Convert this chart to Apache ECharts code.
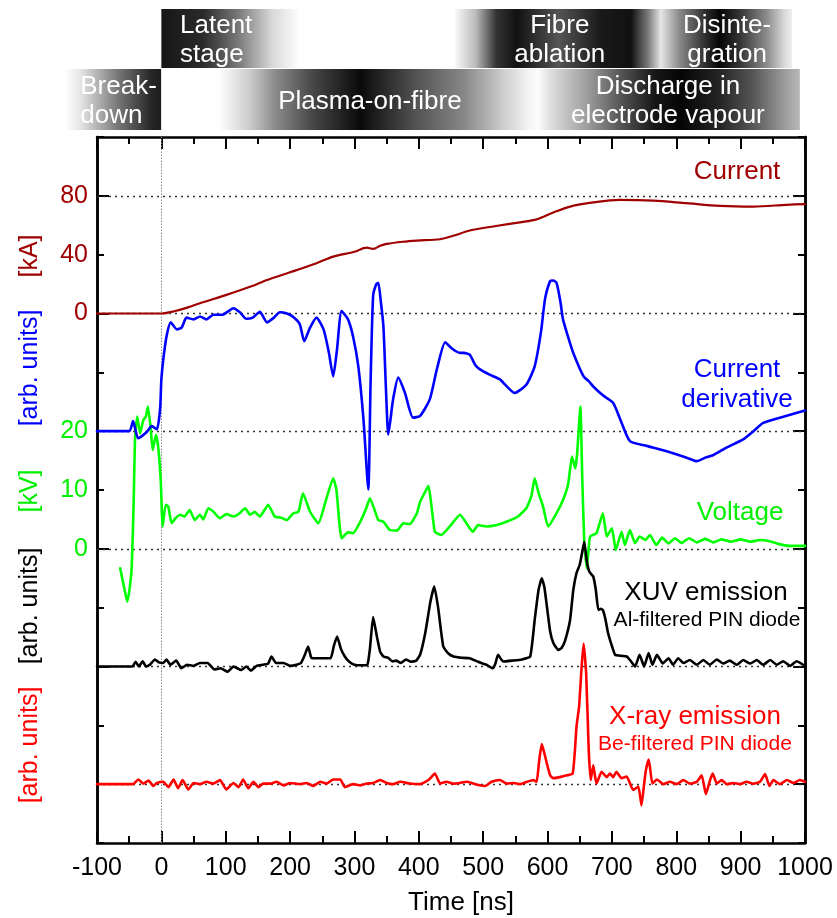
<!DOCTYPE html>
<html>
<head>
<meta charset="utf-8">
<script src="https://cdn.jsdelivr.net/npm/echarts@6/dist/echarts.min.js"></script>
<style>
  html, body { margin: 0; padding: 0; background: #ffffff; }
  #chart { width: 837px; height: 918px; }
</style>
</head>
<body>
<div id="chart"></div>
<script>
// ---- Discharge current [kA] ----
const currentTime = [-100, -50, 0, 20, 40, 60, 100, 140, 164, 200, 240, 267, 300, 319, 329, 340, 350, 375, 397, 433, 455, 479, 520, 557, 583, 609, 635, 671, 712, 764, 816, 868, 920, 971, 1000];
const currentKA   = [0, 0, 0, 1.5, 4, 7, 12.5, 18.5, 22.8, 28, 34, 38.7, 42, 44.8, 43.9, 46, 47.3, 48.8, 49.6, 50.5, 53, 56.4, 59.5, 62, 64, 68.7, 72.7, 75.5, 77.3, 76.8, 75, 73.2, 72.7, 73.9, 74.4];

// ---- Current derivative [arb. units] ----
const derivTime = [-100, -50, -44, -36, -23, -15, -7, -2, 0, 3, 8, 14.5, 24, 31.5, 39, 50, 60, 70, 81, 95, 112, 122, 132, 142, 153, 164, 175, 184, 195, 205, 215, 222, 231, 241, 252, 260, 267, 273, 280, 290, 298, 306, 314, 321.5, 325, 329, 334, 337, 341, 345, 349, 352.5, 356, 360, 368, 378.5, 391, 402, 417, 428, 441, 452, 464, 470, 479, 488, 495, 510, 526, 549, 567, 580, 590, 596, 604, 609, 614, 620, 624, 632, 640, 656, 664, 671, 687, 702, 713, 728, 754, 785, 816, 832, 845, 857, 878, 904, 920, 935, 961, 1000];
const derivArb  = [0, 0, 0.17, -0.12, -0.02, 0.085, 0.03, 0.37, 0.88, 1.22, 1.61, 1.85, 1.73, 1.76, 1.93, 1.9, 1.95, 1.9, 1.98, 1.98, 2.09, 2.02, 1.91, 1.93, 2.03, 1.85, 1.93, 2.02, 2.0, 1.94, 1.82, 1.53, 1.76, 1.93, 1.73, 1.35, 0.93, 1.4, 2.04, 1.9, 1.6, 1.1, 0.2, -0.99, 0.8, 2.3, 2.5, 2.52, 2.2, 1.78, 0.7, -0.06, 0.2, 0.54, 0.91, 0.65, 0.23, 0.26, 0.54, 1.05, 1.51, 1.4, 1.33, 1.33, 1.3, 1.12, 1.05, 0.96, 0.88, 0.65, 0.79, 1.1, 1.7, 2.24, 2.55, 2.56, 2.52, 2.2, 1.9, 1.6, 1.33, 0.93, 0.85, 0.76, 0.6, 0.48, 0.2, -0.17, -0.25, -0.34, -0.45, -0.51, -0.45, -0.41, -0.28, -0.14, 0, 0.14, 0.23, 0.35];

// ---- Voltage [kV] ----
const voltTime = [-64, -58, -53, -49, -46, -43, -41, -37.5, -33, -28, -24, -21, -17, -13.5, -8.4, -5, -1, 2, 6.7, 10.7, 16, 22, 29, 36, 44, 52, 60, 65, 73, 81, 91, 101, 112, 121, 130, 138, 145, 153, 166, 176, 186, 195, 205, 213, 220, 231, 244, 255, 267, 272, 280, 290, 298, 309, 318, 324, 337, 345, 355, 366, 376, 386, 397, 402, 409, 415, 420, 425, 435, 448, 464, 474, 484, 492, 505, 521, 536, 554, 567, 575, 580, 586, 593, 601, 614, 624, 632, 638, 643, 646, 651, 654, 657, 661, 666, 676, 686, 692, 700, 706, 715, 720, 728, 736, 743, 752, 759, 769, 778, 788, 798, 808, 820, 832, 845, 858, 870, 885, 900, 915, 930, 945, 960, 975, 1000];
const voltKV   = [-3.3, -6.5, -9.0, -6.5, -3.0, 8, 18.5, 22.5, 19.6, 21.9, 22.5, 24.2, 21, 16.8, 19.4, 17.4, 11.7, 3.8, 7.5, 7.2, 4.35, 5.2, 5.8, 5.5, 6.6, 4.9, 5.8, 5.0, 6.9, 6.3, 5.2, 5.9, 5.5, 6.0, 6.9, 5.8, 6.3, 5.5, 7.5, 5.5, 5.3, 4.9, 6.05, 6.3, 9.45, 6.3, 4.35, 8, 12.0, 10, 1.8, 2.8, 2.65, 4.6, 6.8, 8.6, 4.9, 4.6, 3.2, 3.1, 4.35, 4.2, 6.05, 8.0, 9.5, 10.7, 7, 2.9, 2.35, 3.8, 5.8, 4.35, 2.9, 4.05, 3.8, 4.05, 4.6, 5.5, 6.9, 9, 12.0, 9.5, 7.2, 3.8, 6.05, 8.3, 11, 15.7, 13.7, 16.2, 24.2, 11.7, 1.5, -3.3, 2.1, 2.65, 6.05, 2.1, 3.5, -0.2, 2.9, 0.65, 3.2, 0.95, 2.1, 1.5, 2.35, 0.65, 1.9, 0.9, 1.8, 1.0, 1.8, 1.1, 1.7, 1.1, 1.6, 1.2, 1.6, 1.2, 1.5, 1.3, 0.8, 0.5, 0.5];

// ---- XUV emission, Al-filtered PIN diode [arb. units] ----
const xuvTime = [-100, -45, -40, -35, -29, -24, -18, -10, -4, 3, 8, 14, 23, 31, 40, 50, 60, 72, 82, 92, 103, 112, 124, 132, 139, 148, 158, 166, 171, 178, 190, 200, 210, 217, 223, 228, 233, 240, 255, 263, 268, 273, 279, 285, 292, 300, 310, 320, 324, 329, 335, 340, 345, 352, 359, 365, 372, 380, 388, 396, 402, 410, 418, 424, 430, 438, 446, 454, 466, 479, 492, 505, 515, 519, 523, 531, 545, 560, 573, 580, 586, 591, 595, 599, 604, 609, 617, 622, 627, 635, 640, 645, 650, 654, 657, 661, 665, 671, 675, 679, 683, 686, 690, 694, 700, 705, 715, 723, 728, 736, 743, 750, 757, 763, 770, 779, 788, 795, 803, 811, 821, 832, 842, 852, 863, 873, 883, 894, 904, 915, 925, 935, 946, 956, 966, 977, 987, 997];
const xuvArb  = [0, 0, 0.08, 0.0, 0.09, 0, 0.03, 0.12, 0.07, 0.06, 0.12, 0.03, 0.1, -0.03, 0.03, 0.01, 0.06, 0.06, -0.05, -0.03, -0.09, 0, -0.06, 0.0, -0.07, 0.01, 0.03, 0.05, 0.17, 0.06, 0.06, 0.01, 0.03, 0.06, 0.2, 0.34, 0.15, 0.14, 0.14, 0.14, 0.35, 0.51, 0.3, 0.17, 0.08, 0.03, 0.02, 0.03, 0.3, 0.84, 0.5, 0.25, 0.17, 0.15, 0.085, 0.1, 0.06, 0.12, 0.08, 0.1, 0.2, 0.57, 1.1, 1.36, 1.0, 0.34, 0.22, 0.17, 0.15, 0.14, 0.08, 0.03, -0.03, 0.05, 0.2, 0.085, 0.1, 0.12, 0.17, 0.79, 1.3, 1.5, 1.35, 1.02, 0.6, 0.4, 0.28, 0.32, 0.43, 0.79, 1.3, 1.59, 1.73, 1.95, 2.12, 1.79, 1.61, 1.53, 1.3, 0.96, 0.98, 0.96, 0.8, 0.57, 0.35, 0.2, 0.18, 0.17, 0.11, 0.0, 0.2, 0.0, 0.23, 0.03, 0.2, 0.05, 0.14, 0.03, 0.14, 0.06, 0.11, 0.03, 0.11, 0.03, 0.12, 0.05, 0.1, 0.03, 0.11, 0.05, 0.11, 0.03, 0.11, 0.03, 0.09, 0.01, 0.09, 0.03];

// ---- X-ray emission, Be-filtered PIN diode [arb. units] ----
const xrayTime = [-100, -44, -36, -28, -20, -12.5, -7, 3, 11, 19, 26, 33, 42, 50, 60, 70, 81, 91, 101, 112, 120, 127, 135, 143, 151, 158, 169, 179, 190, 200, 215, 226, 236, 247, 257, 267, 278, 285, 298, 309, 319, 329, 340, 350, 360, 371, 386, 402, 415, 425, 433, 443, 454, 464, 474, 485, 495, 503, 513, 526, 537, 547, 557, 568, 578, 583, 587, 591, 594.5, 599, 604, 609, 619, 630, 639, 642.7, 645, 649, 653, 656, 660, 664, 667, 671, 676, 684, 692, 697, 702, 707, 715, 723, 733, 741, 746, 750, 753, 757, 759, 763, 770, 780, 790, 801, 811, 821, 832, 839.5, 846, 852.5, 856.6, 863, 870.6, 878.4, 889, 899, 909, 920, 930, 938, 944.7, 951, 961, 972, 982, 992, 1000];
const xrayArb  = [0, 0, 0.08, 0.01, 0.06, -0.03, 0.02, 0.04, -0.05, 0.08, -0.07, 0.07, -0.09, 0.02, 0, 0.04, 0.01, 0.07, -0.09, 0.02, -0.05, 0.08, -0.07, 0.04, -0.05, 0.01, 0.01, 0.04, -0.02, 0.02, 0, 0.02, -0.03, 0.04, 0.01, 0.08, 0.08, -0.05, 0, -0.02, 0.01, 0.02, 0.07, 0.02, 0, 0.04, 0.01, 0, 0.07, 0.18, 0.01, 0.04, 0.01, 0.02, 0.04, 0.01, -0.02, -0.03, 0.04, 0.07, 0.01, 0.02, 0, 0.04, 0.07, 0.04, 0.4, 0.68, 0.55, 0.35, 0.15, 0.1, 0.12, 0.15, 0.18, 0.6, 0.98, 1.32, 2.0, 2.39, 1.88, 0.58, 0.07, 0.32, 0.01, 0.21, 0.12, 0.18, 0.12, 0.21, 0.1, 0.13, -0.1, -0.04, -0.36, 0, 0.25, 0.42, 0.3, 0.01, 0.08, 0, 0.04, 0, 0.07, 0.01, 0.04, 0.15, -0.17, 0.07, 0.18, 0.01, 0.07, 0, 0.02, 0, 0.04, 0.01, 0.04, 0.17, -0.03, 0.07, 0, 0.07, 0.02, 0.07, 0.04];

// ---- Discharge stages shown above the plot (time in ns) ----
const stageNames = ['Latent\nstage', 'Fibre\nablation', 'Disinte-\ngration', 'Break-\ndown', 'Plasma-on-fibre', 'Discharge in\nelectrode vapour'];
const stageStart = [0, 456, 775, -150, 0, 583];
const stageEnd   = [215, 778, 980, 0, 596, 992];
const stageRow   = [0, 0, 0, 1, 1, 1];
const stageLabelTime = [29, 619, 879, -126, 324, 787];

const FONT = 'Liberation Sans, Arial, Helvetica, sans-serif';
const C_CURRENT = '#a00000';
const C_DERIV = '#0000ff';
const C_VOLT = '#00f000';
const C_XRAY = '#ff0000';

const zip = (t, v) => t.map((x, i) => [x, v[i]]);
const dotted = { type: [2, 4], color: '#333333', width: 1.3 };

function lineSeries(name, t, v, yIndex, color, width, smooth, marks) {
  return {
    name, type: 'line', xAxisIndex: 0, yAxisIndex: yIndex,
    data: zip(t, v), symbol: 'none', showSymbol: false, smooth,
    lineStyle: { color, width, join: 'round', cap: 'round' }, z: 3,
    markLine: marks ? {
      silent: true, symbol: ['none', 'none'], label: { show: false },
      lineStyle: dotted, data: marks, z: 1
    } : undefined
  };
}

const frameLine = { show: true, onZero: false, lineStyle: { color: '#000', width: 2.5 } };

const xBase = {
  type: 'value', min: -100, max: 1000, interval: 100,
  axisLine: frameLine,
  axisTick: { show: true, inside: true, length: 12, lineStyle: { color: '#000', width: 2 } },
  minorTick: { show: true, splitNumber: 2, length: 7, lineStyle: { color: '#000', width: 2 } },
  splitLine: { show: false }, minorSplitLine: { show: false }
};

const chart = echarts.init(document.getElementById('chart'), null, { renderer: 'canvas' });

chart.setOption({
  animation: false,
  backgroundColor: '#ffffff',
  grid: { left: 97, right: 32, top: 137, bottom: 75, containLabel: false },
  xAxis: [
    Object.assign({}, xBase, {
      position: 'bottom',
      axisLabel: { show: true, fontSize: 25, fontFamily: FONT, color: '#000', margin: 13,
        formatter: v => String(v) }
    }),
    Object.assign({}, xBase, { position: 'top', axisLabel: { show: false } })
  ],
  yAxis: [
    { // current [kA]
      type: 'value', position: 'left', min: -360, max: 120, interval: 40,
      axisLine: frameLine,
      axisTick: { show: true, inside: true, length: 12, customValues: [-320, -240, -160, -80, 0, 80], lineStyle: { color: '#000', width: 2 } },
      axisLabel: { show: true, customValues: [0, 40, 80], color: C_CURRENT, fontSize: 25, fontFamily: FONT, margin: 9 },
      splitLine: { show: false }
    },
    { // voltage [kV]
      type: 'value', position: 'left', min: -50, max: 70, interval: 10,
      axisLine: frameLine,
      axisTick: { show: true, inside: true, length: 7, lineStyle: { color: '#000', width: 2 } },
      axisLabel: { show: true, customValues: [0, 10, 20], color: C_VOLT, fontSize: 25, fontFamily: FONT, margin: 9 },
      splitLine: { show: false }
    },
    { type: 'value', min: -7, max: 5, show: false },   // current derivative
    { type: 'value', min: -3, max: 9, show: false },   // XUV
    { type: 'value', min: -1, max: 11, show: false },  // X-ray
    { // right frame, short ticks
      type: 'value', position: 'right', min: 0, max: 12, interval: 1,
      axisLine: frameLine,
      axisTick: { show: true, inside: true, length: 7, lineStyle: { color: '#000', width: 2 } },
      axisLabel: { show: false }, splitLine: { show: false }
    },
    { // right frame, long ticks
      type: 'value', position: 'right', min: 0, max: 12, interval: 1,
      axisLine: frameLine,
      axisTick: { show: true, inside: true, length: 12, customValues: [1, 3, 5, 7, 9, 11], lineStyle: { color: '#000', width: 2 } },
      axisLabel: { show: false }, splitLine: { show: false }
    }
  ],
  series: [
    lineSeries('Current', currentTime, currentKA, 0, C_CURRENT, 2.2, 0.3,
      [{ yAxis: 0 }, { yAxis: 80 },
       { xAxis: 0, lineStyle: { color: '#8a8a8a', type: [1.5, 1.5], width: 1 } }]),
    lineSeries('Voltage', voltTime, voltKV, 1, '#00ff00', 2.6, 0.15, [{ yAxis: 0 }, { yAxis: 20 }]),
    lineSeries('Current derivative', derivTime, derivArb, 2, C_DERIV, 2.6, 0.2, null),
    lineSeries('XUV emission', xuvTime, xuvArb, 3, '#000000', 2.6, 0.15, [{ yAxis: 0 }]),
    lineSeries('X-ray emission', xrayTime, xrayArb, 4, C_XRAY, 2.6, 0.15, [{ yAxis: 0 }])
  ]
});

// ---- stage bands and text annotations ----
const rowTop = [9, 69];
const rowHeight = [59, 61];
const stageShades = [
  [[0, '#161616'], [0.3, '#2a2a2a'], [0.55, '#777777'], [0.8, '#d8d8d8'], [1, '#ffffff']],
  [[0, '#fafafa'], [0.1, '#bbbbbb'], [0.2, '#333333'], [0.3, '#111111'], [0.5, '#555555'], [0.7, '#1a1a1a'], [0.85, '#111111'], [0.93, '#777777'], [1, '#eeeeee']],
  [[0, '#e8e8e8'], [0.15, '#888888'], [0.33, '#333333'], [0.45, '#050505'], [0.6, '#333333'], [0.8, '#888888'], [0.95, '#dddddd'], [1, '#eeeeee']],
  [[0, '#ffffff'], [0.15, '#e8e8e8'], [0.55, '#777777'], [0.9, '#262626'], [1, '#1e1e1e']],
  [[0, '#ffffff'], [0.15, '#ffffff'], [0.23, '#cccccc'], [0.3, '#888888'], [0.4, '#444444'], [0.52, '#0a0a0a'], [0.6, '#333333'], [0.67, '#555555'], [0.79, '#888888'], [0.89, '#cccccc'], [0.96, '#f5f5f5'], [1, '#ffffff']],
  [[0, '#ffffff'], [0.05, '#e0e0e0'], [0.2, '#999999'], [0.32, '#555555'], [0.45, '#161616'], [0.55, '#050505'], [0.7, '#262626'], [0.82, '#555555'], [0.95, '#a0a0a0'], [1, '#b8b8b8']]
];
const stageAlign = ['left', 'center', 'center', 'left', 'center', 'center'];

const px = t => chart.convertToPixel({ xAxisIndex: 0 }, t);
const elements = [];

stageNames.forEach((name, i) => {
  const x0 = px(stageStart[i]);
  const x1 = px(stageEnd[i]);
  const r = stageRow[i];
  elements.push({
    type: 'rect', silent: true, z: 1,
    shape: { x: x0, y: rowTop[r], width: x1 - x0, height: rowHeight[r] },
    style: {
      fill: new echarts.graphic.LinearGradient(0, 0, 1, 0,
        stageShades[i].map(s => ({ offset: s[0], color: s[1] })))
    }
  });
});
stageNames.forEach((name, i) => {
  const r = stageRow[i];
  elements.push({
    type: 'text', silent: true, z: 2,
    x: px(stageLabelTime[i]), y: rowTop[r] + rowHeight[r] / 2 + 2,
    style: {
      text: name, fill: '#ffffff', fontSize: 26, fontFamily: FONT,
      align: stageAlign[i], verticalAlign: 'middle', lineHeight: 29
    }
  });
});

function note(text, x, y, color, size, opts) {
  return Object.assign({
    type: 'text', silent: true, z: 5, x, y,
    style: { text, fill: color, fontSize: size, fontFamily: FONT, align: 'center', verticalAlign: 'middle', lineHeight: 30 }
  }, opts || {});
}
const vertical = { rotation: Math.PI / 2 };

elements.push(
  note('Current', 737, 172, C_CURRENT, 26),
  note('Current\nderivative', 737, 385, C_DERIV, 26),
  note('Voltage', 740, 513, C_VOLT, 26),
  note('XUV emission', 706, 593, '#000000', 26),
  note('Al-filtered PIN diode', 707, 620, '#000000', 21),
  note('X-ray emission', 695, 717, C_XRAY, 26),
  note('Be-filtered PIN diode', 695, 744, C_XRAY, 21),
  note('Time [ns]', 461, 903, '#000000', 26),
  note('[kA]', 30, 256, C_CURRENT, 25, vertical),
  note('[arb. units]', 30, 368, C_DERIV, 25, vertical),
  note('[kV]', 30, 491, C_VOLT, 25, vertical),
  note('[arb. units]', 30, 606, '#000000', 25, vertical),
  note('[arb. units]', 30, 745, C_XRAY, 25, vertical)
);

chart.setOption({ graphic: { elements } });
</script>
</body>
</html>
